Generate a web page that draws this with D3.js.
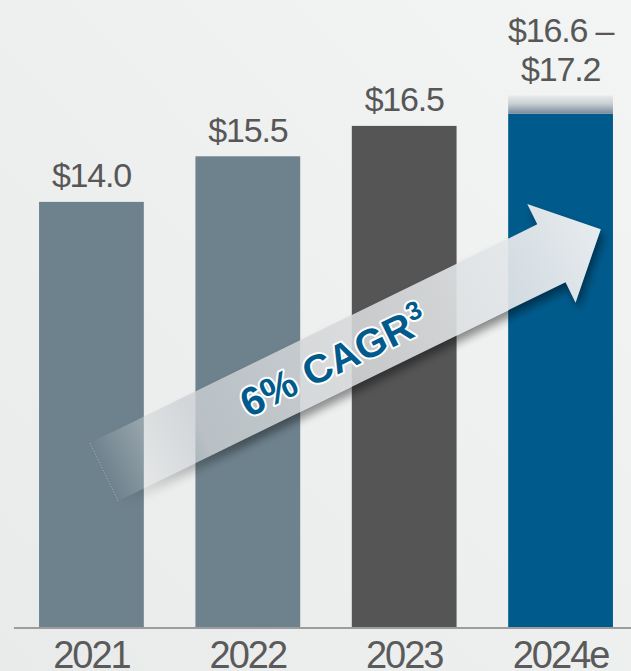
<!DOCTYPE html>
<html>
<head>
<meta charset="utf-8">
<script src="https://cdn.jsdelivr.net/npm/d3@7/dist/d3.min.js"></script>
<style>
  html, body { margin: 0; padding: 0; background: #eff0f0; }
  svg { display: block; }
</style>
</head>
<body>
<div id="chart"></div>
<script>
// ---- data ----
const years = ["2021", "2022", "2023", "2024e"];
const lowValues = [14.0, 15.5, 16.5, 16.6];
const highValues = [14.0, 15.5, 16.5, 17.2];
const valueLabels = [["$14.0"], ["$15.5"], ["$16.5"], ["$16.6 \u2013", "$17.2"]];
const barColors = ["#6e828d", "#6e828d", "#555555", "#005b8c"];
const cagrText = "6% CAGR";
const cagrNote = "3";

// ---- setup ----
const W = 631, H = 671;
const svg = d3.select("#chart").append("svg").attr("width", W).attr("height", H);
const defs = svg.append("defs");

const bg = defs.append("linearGradient").attr("id", "bg")
  .attr("x1", 0).attr("y1", 1).attr("x2", 1).attr("y2", 0);
bg.append("stop").attr("offset", 0).attr("stop-color", "#e9eaea");
bg.append("stop").attr("offset", 1).attr("stop-color", "#f3f4f4");
svg.append("rect").attr("width", W).attr("height", H).attr("fill", "url(#bg)");

const x = d3.scaleBand().domain(years).range([13.4, 638.6])
  .paddingInner(0.33).paddingOuter(0.164);
const y = d3.scaleLinear().domain([0, 20]).range([627.5, 19.5]);

const data = years.map((yr, i) => {
  const lo = lowValues[i], hi = highValues[i];
  const mid = (lo + hi) / 2;
  return { yr, lo, hi, mid, fadeTop: mid + (hi - lo), color: barColors[i], labels: valueLabels[i] };
});

// fade gradient for range bar
const fade = defs.append("linearGradient").attr("id", "fade")
  .attr("x1", 0).attr("y1", 0).attr("x2", 0).attr("y2", 1);
fade.append("stop").attr("offset", 0).attr("stop-color", "#e9ebec");
fade.append("stop").attr("offset", 0.45).attr("stop-color", "#c9cfd2");
fade.append("stop").attr("offset", 1).attr("stop-color", "#76899a");

// ---- bars ----
svg.append("g").selectAll("rect.bar").data(data).join("rect")
  .attr("class", "bar")
  .attr("x", d => x(d.yr))
  .attr("width", x.bandwidth())
  .attr("y", d => y(d.mid))
  .attr("height", d => y(0) - y(d.mid))
  .attr("fill", d => d.color);

svg.append("g").selectAll("rect.fade").data(data.filter(d => d.hi > d.lo)).join("rect")
  .attr("class", "fade")
  .attr("x", d => x(d.yr))
  .attr("width", x.bandwidth())
  .attr("y", d => y(d.fadeTop))
  .attr("height", d => y(d.mid) - y(d.fadeTop))
  .attr("fill", "url(#fade)");

// ---- value labels ----
const lbl = svg.append("g").selectAll("text").data(data).join("text")
  .attr("text-anchor", "middle")
  .attr("font-family", "'Liberation Sans', Arial, sans-serif")
  .attr("font-size", 34)
  .attr("letter-spacing", "-1.2px")
  .attr("fill", "#575757")
  .attr("transform", d => `translate(${x(d.yr) + x.bandwidth() / 2},${y(d.fadeTop) - 14.5})`);
lbl.selectAll("tspan").data(d => d.labels.map((t, j) => ({ t, j, n: d.labels.length }))).join("tspan")
  .attr("x", 0)
  .attr("y", d => -(d.n - 1 - d.j) * 39)
  .text(d => d.t);

// ---- x axis ----
const ax = svg.append("g").attr("transform", `translate(0,${y(0)})`)
  .call(d3.axisBottom(x).tickSize(0).tickSizeOuter(0).tickPadding(13.5));
ax.select(".domain").attr("stroke", "#9d9d9d").attr("stroke-width", 2);
ax.selectAll(".tick text")
  .attr("font-family", "'Liberation Sans', Arial, sans-serif")
  .attr("font-size", 38)
  .attr("letter-spacing", "-2px")
  .attr("fill", "#5a5a5a");

// ---- CAGR arrow (annotation) ----
const hw = 32.2, shaftLen = 498, tipLen = 553, barb = 55;
const arrowPts = [[0, -hw], [shaftLen, -hw], [shaftLen, -barb], [tipLen, 0],
                  [shaftLen, barb], [shaftLen, hw], [0, hw]];
const arrowPath = d3.line()(arrowPts) + "Z";
const ang = -26.05;
const tx = 104, ty = 472;

const ag = defs.append("linearGradient").attr("id", "arrowFill")
  .attr("gradientUnits", "userSpaceOnUse")
  .attr("x1", 0).attr("y1", 0).attr("x2", tipLen).attr("y2", 0);
[[0, "#d0d4d7", 0], [0.07, "#ccd1d4", 0.3], [0.19, "#cbd0d3", 0.8],
 [0.5, "#d6d8da", 0.88], [0.8, "#e2e5e7", 0.93], [1, "#eef0f2", 0.97]]
  .forEach(([o, c, a]) => ag.append("stop").attr("offset", o).attr("stop-color", c).attr("stop-opacity", a));

const blur = defs.append("filter").attr("id", "blur")
  .attr("x", "-20%").attr("y", "-50%").attr("width", "140%").attr("height", "200%");
blur.append("feGaussianBlur").attr("stdDeviation", 4);

const mask = defs.append("mask").attr("id", "shadowMask")
  .attr("maskUnits", "userSpaceOnUse").attr("x", 0).attr("y", 0).attr("width", W).attr("height", H);
mask.append("rect").attr("width", W).attr("height", H).attr("fill", "#fff");
mask.append("path").attr("d", arrowPath).attr("fill", "#000")
  .attr("transform", `translate(${tx},${ty}) rotate(${ang})`);

// shadow
const shadowGrad = defs.append("linearGradient").attr("id", "shadowFill")
  .attr("gradientUnits", "userSpaceOnUse")
  .attr("x1", 0).attr("y1", 0).attr("x2", tipLen).attr("y2", 0);
shadowGrad.append("stop").attr("offset", 0).attr("stop-color", "#000").attr("stop-opacity", 0);
shadowGrad.append("stop").attr("offset", 0.25).attr("stop-color", "#000").attr("stop-opacity", 0.4);
shadowGrad.append("stop").attr("offset", 1).attr("stop-color", "#000").attr("stop-opacity", 0.45);

svg.append("g").attr("mask", "url(#shadowMask)")
  .append("path").attr("d", arrowPath)
  .attr("transform", `translate(${tx + 3},${ty + 6}) rotate(${ang})`)
  .attr("fill", "url(#shadowFill)")
  .attr("filter", "url(#blur)");

const arrowG = svg.append("g").attr("transform", `translate(${tx},${ty}) rotate(${ang})`);
arrowG.append("path").attr("d", arrowPath).attr("fill", "url(#arrowFill)");
arrowG.append("line").attr("x1", 0).attr("y1", -hw).attr("x2", 0).attr("y2", hw)
  .attr("stroke", "#ffffff").attr("stroke-opacity", 0.45).attr("stroke-width", 0.8)
  .attr("stroke-dasharray", "1,2");

const cagr = arrowG.append("text")
  .attr("x", 255).attr("y", 15)
  .attr("text-anchor", "middle")
  .attr("font-family", "'Liberation Sans', Arial, sans-serif")
  .attr("font-weight", "bold")
  .attr("font-size", 40)
  .attr("fill", "#005b8c")
  .attr("stroke", "#ffffff")
  .attr("stroke-width", 4)
  .attr("stroke-linejoin", "round")
  .attr("paint-order", "stroke");
cagr.append("tspan").text(cagrText);
cagr.append("tspan").attr("font-size", 26).attr("dy", -15).attr("dx", 1).text(cagrNote);
</script>
</body>
</html>
